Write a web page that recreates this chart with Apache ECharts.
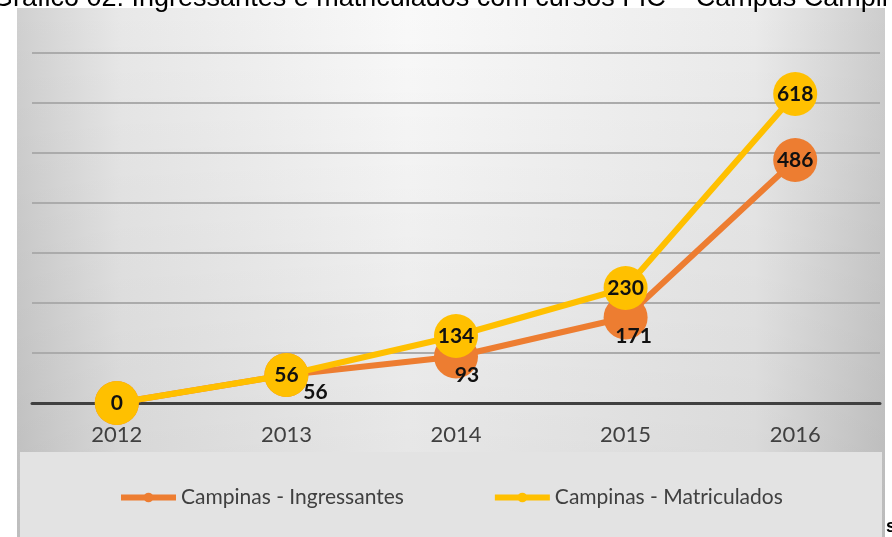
<!DOCTYPE html>
<html>
<head>
<meta charset="utf-8">
<script src="https://cdn.jsdelivr.net/npm/echarts@6/dist/echarts.min.js"></script>
<style>
  html, body { margin: 0; padding: 0; background: #fff; }
  #chart { width: 892px; height: 537px; }
</style>
</head>
<body>
<div id="chart"></div>
<script>
// dados
const anos = ["2012", "2013", "2014", "2015", "2016"];
const ingressantes = [0, 56, 93, 171, 486];
const matriculados = [0, 56, 134, 230, 618];
// deslocamento dos rótulos de ingressantes (sob o ponto)
const offsetIngr = [[0, 0], [29, 17], [11, 19], [8, 19], [0, 0]];

const chart = echarts.init(document.getElementById("chart"));
const fonte = "Lato, 'Open Sans', sans-serif";

const option = {
  animation: false,
  graphic: [
    {
      type: "rect",
      z: -10,
      shape: { x: 17, y: 8, width: 868, height: 529 },
      style: {
        fill: new echarts.graphic.LinearGradient(0, 0, 1, 0, [
          { offset: 0, color: "#d0d0d0" },
          { offset: 0.12, color: "#e8e8e8" },
          { offset: 0.45, color: "#f9f9f9" },
          { offset: 0.85, color: "#ebebeb" },
          { offset: 1, color: "#cdcdcd" }
        ])
      }
    },
    {
      type: "rect",
      z: -9,
      shape: { x: 17, y: 8, width: 868, height: 529 },
      style: {
        fill: new echarts.graphic.LinearGradient(0, 0, 0, 1, [
          { offset: 0, color: "rgba(0,0,0,0)" },
          { offset: 0.8, color: "rgba(0,0,0,0.07)" },
          { offset: 1, color: "rgba(0,0,0,0.09)" }
        ])
      }
    },
    {
      type: "rect",
      z: -8,
      shape: { x: 20, y: 452, width: 862, height: 85 },
      style: { fill: "#e3e3e3" }
    },
    {
      type: "text",
      left: -8,
      top: -15,
      z: 10,
      style: {
        text: "Gráfico 02: Ingressantes e matriculados com cursos FIC – Campus Campinas",
        font: "27px 'Liberation Sans', Arial, sans-serif",
        fill: "#000"
      }
    },
    {
      type: "text",
      left: 886,
      top: 518,
      style: { text: "s", font: "bold 18px 'Liberation Sans', Arial", fill: "#000" }
    }
  ],
  grid: { left: 32, right: 12, top: 53, bottom: 134 },
  legend: {
    left: 113,
    top: 482,
    itemGap: 88,
    itemWidth: 55,
    itemHeight: 12,
    lineStyle: { width: 6 },
    textStyle: { fontFamily: fonte, fontSize: 21, color: "#404040" },
    data: ["Campinas - Ingressantes", "Campinas - Matriculados"]
  },
  xAxis: {
    type: "category",
    data: anos,
    boundaryGap: true,
    axisLine: { lineStyle: { color: "#404040", width: 3 } },
    axisTick: { show: false },
    axisLabel: { fontFamily: fonte, fontSize: 22, color: "#404040", margin: 21 }
  },
  yAxis: {
    type: "value",
    min: 0,
    max: 700,
    interval: 100,
    axisLabel: { show: false },
    axisLine: { show: false },
    axisTick: { show: false },
    splitLine: { lineStyle: { color: "#ababab", width: 2 } }
  },
  series: [
    {
      name: "Campinas - Ingressantes",
      type: "line",
      z: 2,
      symbol: "circle",
      symbolSize: 44,
      color: "#ED7D31",
      lineStyle: { width: 6, color: "#ED7D31" },
      data: ingressantes.map((v, i) => ({
        value: v,
        label: i === 4
          ? { position: "inside" }
          : { position: "inside", offset: offsetIngr[i] }
      })),
      label: {
        show: true,
        fontFamily: fonte,
        fontWeight: "bold",
        fontSize: 21,
        color: "#111"
      }
    },
    {
      name: "Campinas - Matriculados",
      type: "line",
      z: 3,
      symbol: "circle",
      symbolSize: 44,
      color: "#FFC000",
      lineStyle: { width: 6, color: "#FFC000" },
      data: matriculados,
      label: {
        show: true,
        position: "inside",
        fontFamily: fonte,
        fontWeight: "bold",
        fontSize: 21,
        color: "#111"
      }
    }
  ]
};

chart.setOption(option);
</script>
</body>
</html>
